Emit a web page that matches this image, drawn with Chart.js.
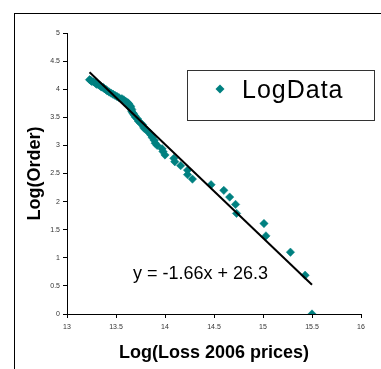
<!DOCTYPE html>
<html>
<head>
<meta charset="utf-8">
<script src="https://cdn.jsdelivr.net/npm/chart.js@4/dist/chart.umd.min.js"></script>
<style>
html,body{margin:0;padding:0;background:#fff;}
#c{display:block;}
</style>
</head>
<body>
<canvas id="c" width="381" height="369" style="width:381px;height:369px"></canvas>
<script>
// Log(Loss 2006 prices)
const lossLog = [13.23,13.24,13.25,13.27,13.29,13.30,13.32,13.34,13.35,13.37,13.38,13.40,13.41,13.43,13.45,13.47,13.49,13.51,13.53,13.56,13.58,13.60,13.62,13.63,13.64,13.65,13.65,13.66,13.66,13.67,13.68,13.69,13.70,13.72,13.73,13.75,13.77,13.78,13.79,13.82,13.84,13.86,13.87,13.89,13.90,13.92,13.97,13.98,14.00,14.09,14.10,14.16,14.23,14.23,14.28,14.47,14.60,14.66,14.72,14.73,15.01,15.03,15.28,15.43,15.50];
// Log(Order)
const orderLog = [4.17,4.16,4.14,4.13,4.11,4.09,4.08,4.06,4.04,4.03,4.01,3.99,3.97,3.95,3.93,3.91,3.89,3.87,3.85,3.83,3.81,3.78,3.76,3.74,3.71,3.69,3.66,3.64,3.61,3.58,3.56,3.53,3.50,3.47,3.43,3.40,3.37,3.33,3.30,3.26,3.22,3.18,3.14,3.09,3.04,3.00,2.94,2.89,2.83,2.77,2.71,2.64,2.56,2.48,2.40,2.30,2.20,2.08,1.95,1.79,1.61,1.39,1.10,0.69,0.00];
// trend line end points
const trendX = [13.23, 15.50];
const trendY = [4.30, 0.52];
const seriesName = 'LogData';
const equationText = 'y = -1.66x + 26.3';
const xTitle = 'Log(Loss 2006 prices)';
const yTitle = 'Log(Order)';

const FONT = '"Liberation Sans", Arial, sans-serif';
const TEAL = '#008080';

const frame = {
  id: 'frame',
  beforeDraw(chart) {
    const ctx = chart.ctx;
    ctx.save();
    ctx.fillStyle = '#fff';
    ctx.fillRect(0, 0, chart.width, chart.height);
    ctx.strokeStyle = '#000';
    ctx.lineWidth = 1;
    ctx.strokeRect(14.5, 13.5, 500, 500);
    ctx.restore();
  }
};

const extras = {
  id: 'extras',
  afterDraw(chart) {
    const ctx = chart.ctx;
    ctx.save();
    // legend box
    const bx = 187.5, by = 70.5, bw = 187, bh = 50;
    ctx.fillStyle = '#fff';
    ctx.fillRect(bx, by, bw, bh);
    ctx.strokeStyle = '#333';
    ctx.lineWidth = 1;
    ctx.strokeRect(bx, by, bw, bh);
    const ds = chart.data.datasets[0];
    const my = 89;
    ctx.fillStyle = ds.pointBackgroundColor;
    ctx.beginPath();
    ctx.moveTo(220, my - 4.5); ctx.lineTo(224.5, my); ctx.lineTo(220, my + 4.5); ctx.lineTo(215.5, my); ctx.closePath();
    ctx.fill();
    ctx.fillStyle = '#000';
    ctx.font = '25px ' + FONT;
    ctx.textBaseline = 'alphabetic';
    ctx.textAlign = 'left';
    if (ctx.letterSpacing !== undefined) ctx.letterSpacing = '1px';
    ctx.fillText(ds.label, 242, 98);
    // equation
    if (ctx.letterSpacing !== undefined) ctx.letterSpacing = '0px';
    ctx.font = '18px ' + FONT;
    ctx.fillText(equationText, 133, 279);
    ctx.restore();
  }
};

const points = lossLog.map((x, i) => ({x: x, y: orderLog[i]}));
const trend = trendX.map((x, i) => ({x: x, y: trendY[i]}));
const fmt = v => String(Math.round(v * 10) / 10);

new Chart(document.getElementById('c'), {
  type: 'scatter',
  data: {
    datasets: [
      {
        label: seriesName,
        data: points,
        pointStyle: 'rectRot',
        pointRadius: 4.2,
        pointBackgroundColor: TEAL,
        pointBorderColor: TEAL,
        pointBorderWidth: 0.5,
        order: 2
      },
      {
        label: 'Trend',
        data: trend,
        type: 'line',
        showLine: true,
        borderColor: '#000',
        borderWidth: 2,
        pointRadius: 0,
        fill: false,
        order: 1
      }
    ]
  },
  options: {
    responsive: false,
    devicePixelRatio: 1,
    animation: false,
    layout: {padding: {left: 0, top: 33, right: 20, bottom: 0}},
    plugins: {
      legend: {display: false},
      tooltip: {enabled: false}
    },
    scales: {
      x: {
        type: 'linear',
        min: 13, max: 16,
        ticks: {stepSize: 0.5, color: '#333', font: {family: FONT, size: 7}, padding: 5, maxRotation: 0, autoSkip: false, callback: fmt},
        grid: {display: true, drawOnChartArea: false, drawTicks: true, tickLength: 4, color: '#000', tickColor: '#000'},
        border: {display: true, color: '#000', width: 1},
        title: {display: true, text: xTitle, font: {family: FONT, size: 18, weight: 'bold'}, color: '#000', padding: {top: 0, bottom: 5}},
        afterFit(s) { s.height = 55; }
      },
      y: {
        type: 'linear',
        min: 0, max: 5,
        ticks: {stepSize: 0.5, color: '#333', font: {family: FONT, size: 7}, padding: 3, callback: fmt},
        grid: {display: true, drawOnChartArea: false, drawTicks: true, tickLength: 4, color: '#000', tickColor: '#000'},
        border: {display: true, color: '#000', width: 1},
        title: {display: true, text: yTitle, font: {family: FONT, size: 18, weight: 'bold'}, color: '#000', padding: {top: 24, bottom: 0}},
        afterFit(s) { s.width = 67; }
      }
    }
  },
  plugins: [frame, extras]
});
</script>
</body>
</html>
